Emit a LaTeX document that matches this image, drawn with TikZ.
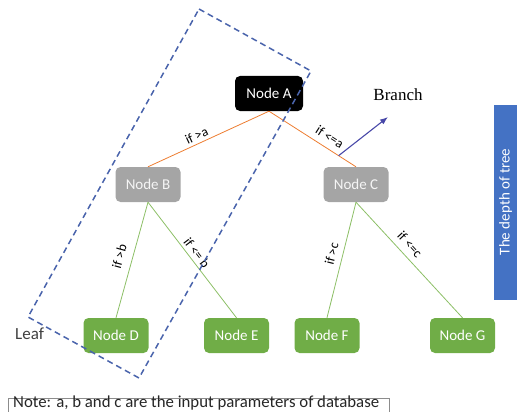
\documentclass[tikz,border=0pt]{standalone}
\usepackage{fontspec}
\setmainfont{Carlito}
\newfontfamily\branchfont{Liberation Serif}
\usetikzlibrary{arrows.meta}
\definecolor{nodegray}{HTML}{A5A5A5}
\definecolor{nodegreen}{HTML}{70AD47}
\definecolor{edgeorange}{HTML}{ED7D31}
\definecolor{edgegreen}{HTML}{8CBF66}
\definecolor{arrowblue}{HTML}{4848A8}
\definecolor{dashblue}{HTML}{4A64AC}
\definecolor{barblue}{HTML}{4472C4}

\begin{document}
\begin{tikzpicture}[x=1pt,y=-1pt,
  treebox/.style={rounded corners=5pt,minimum width=65pt,minimum height=35pt,
    inner sep=0pt,font=\fontsize{15}{17}\selectfont},
  rootnode/.style={treebox,fill=black,text=white,minimum width=68pt},
  innode/.style={treebox,fill=nodegray,text=white!92!gray},
  leafnode/.style={treebox,fill=nodegreen,text=white},
  cond/.style={sloped,above=2pt,inner sep=1pt,text=black,
    font=\fontsize{13.5}{15}\selectfont}]
  \useasboundingbox (0,0) rectangle (517,412);
  \clip (0,0) rectangle (517,412);
  % tree nodes
  \node[rootnode] (A) at (269,93.5) {Node A};
  \node[innode] (B) at (148,184.5) {Node B};
  \node[innode] (C) at (356,184.5) {Node C};
  \node[leafnode] (D) at (116,335.5) {Node D};
  \node[leafnode] (E) at (236.5,335.5) {Node E};
  \node[leafnode] (F) at (327,335.5) {Node F};
  \node[leafnode] (G) at (462.5,335.5) {Node G};
  % branches
  \draw [edgeorange,line width=0.8pt] (A.south) -- node[cond,pos=0.57] {if >a} (B.north);
  \draw [edgeorange,line width=0.8pt] (A.south) -- node[cond,pos=0.63,above=3pt] {if <=a} coordinate[pos=0.8] (br) (C.north);
  \draw [edgegreen,line width=0.8pt] (B.south) -- node[cond,pos=0.5,above=5pt] {if >b} (D.north);
  \draw [edgegreen,line width=0.8pt] (B.south) -- node[cond,pos=0.48] {if <= b} (E.north);
  \draw [edgegreen,line width=0.8pt] (C.south) -- node[cond,pos=0.47,above=3pt] {if >c} (F.north);
  \draw [edgegreen,line width=0.8pt] (C.south) -- node[cond,pos=0.43,above=3pt] {if <=c} (G.north);
  \coordinate (brtip) at (388,117);
  \draw [arrowblue,line width=1.1pt,-{Latex[length=8pt,width=6pt]}] (br) -- (brtip);
  \node[font=\branchfont\fontsize{17}{19}\selectfont] (branch) at (398,95) {Branch};
  \node[anchor=west,inner sep=0pt,text=black!75,font=\fontsize{17}{19}\selectfont] (leaf) at (15,334) {Leaf};
  % one path of the tree
  \draw [dashblue,line width=1.5pt,dash pattern=on 6pt off 4pt]
    (199,9) -- (311,71) -- (139,378) -- (28,317) -- cycle;
  % depth bar
  \fill [barblue] (494,105) rectangle (520,300);
  \node[rotate=90,text=white,font=\fontsize{15}{17}\selectfont] (depth) at (505.5,202) {The depth of tree};
  % note
  \draw [black!45,line width=0.8pt] (8,398) rectangle (389,425);
  \node[anchor=base west,inner sep=0pt,text=black!85,font=\fontsize{16.8}{18}\selectfont] (note) at (13,407.5) {Note: a, b and c are the input parameters of database};
\end{tikzpicture}
\end{document}
